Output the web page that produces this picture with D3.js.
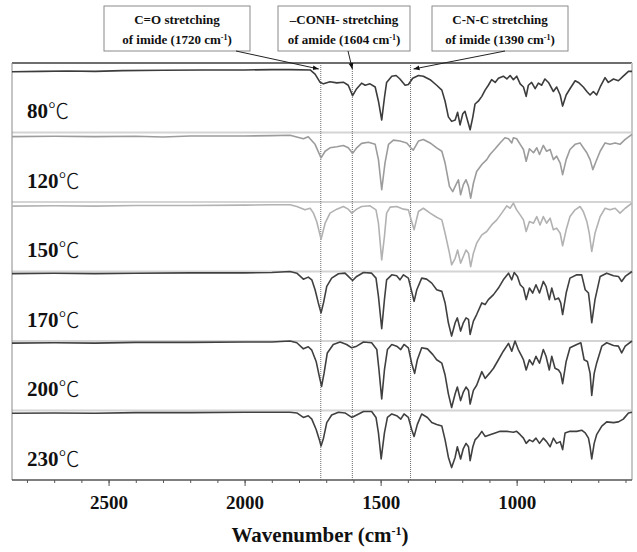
<!DOCTYPE html>
<html>
<head>
<meta charset="utf-8">
<script src="https://cdn.jsdelivr.net/npm/d3@7"></script>
<style>
  body { margin: 0; background: #fff; }
  svg { display: block; }
  text { font-family: "Liberation Serif", "Times New Roman", serif; font-weight: bold; fill: #111; }
</style>
</head>
<body>
<svg id="chart" width="637" height="552"></svg>
<script>
// temperatures, top to bottom
const temperatures = ["80", "120", "150", "170", "200", "230"];

// [wavenumber (cm-1), transmittance (% of panel)]
const spectrum80 = [[2855,87.5],[2750,88],[2650,88.5],[2550,88],[2450,89],[2300,89.5],[2150,90],[2000,90],[1900,90.5],[1833,90.5],[1759,90],[1741,84],[1723,72.4],[1710,70],[1686,73],[1661,71.4],[1637,72.4],[1619,68],[1603,53],[1588,63],[1570,71],[1557,68],[1539,70],[1520,65.5],[1508,45],[1496,18],[1486,50],[1478,72],[1459,81],[1443,82],[1429,77],[1410,68],[1398,69],[1382,78],[1361,82],[1343,81],[1318,76],[1294,68],[1275,61],[1263,45],[1251,22.5],[1239,16],[1226,18],[1217,29],[1208,11],[1198,27],[1190,30.6],[1181,18],[1171,4],[1161,22.5],[1153,41],[1141,45],[1128,52],[1116,61],[1104,68],[1092,76],[1079,72],[1067,78],[1049,81],[1036,77],[1024,82],[1012,76],[1000,81],[987,70],[975,65.5],[965,52],[957,68],[945,72],[932,63],[920,71],[908,68],[896,77],[883,72],[865,59],[853,65.5],[840,54],[831,38],[818,54],[804,63],[785,74.5],[773,72],[755,65.5],[742,59],[730,54],[718,59],[706,54],[693,65.5],[675,79],[663,72],[644,77],[626,74.5],[608,81],[589,88],[576,88]];

const spectrum120 = [[2855,94],[2700,94.5],[2550,94],[2400,94.5],[2300,93.5],[2200,95],[2000,95],[1900,95.5],[1833,96],[1784,91],[1766,94],[1741,83],[1719,63.5],[1704,73],[1686,78],[1661,79.5],[1637,81.4],[1619,78],[1603,70],[1588,78],[1570,84.3],[1545,86],[1520,83],[1508,61],[1496,17.6],[1484,56],[1471,83],[1453,89],[1429,87.7],[1404,85],[1389,78],[1380,74.6],[1361,87.7],[1343,90],[1318,85],[1294,78],[1275,73],[1263,56],[1247,22.5],[1235,15],[1223,25],[1214,32],[1206,10.4],[1196,25],[1186,32],[1177,22.5],[1169,5.6],[1159,27],[1147,44],[1128,54],[1110,61],[1098,68.4],[1079,76.6],[1061,85],[1043,92.5],[1030,91],[1018,85],[1012,92.5],[1000,91],[987,83],[975,75.6],[965,58.7],[953,76.6],[938,70.8],[926,78],[916,68.4],[902,81.4],[890,73],[877,75.6],[865,61],[853,66],[840,56],[831,39.4],[818,61],[804,75.6],[785,83],[767,85],[755,78],[742,70.8],[730,61],[720,46.6],[708,58.7],[693,73],[675,85],[657,83],[638,85],[620,83],[601,90],[576,97.3]];

const spectrum150 = [[2855,94],[2700,94.5],[2550,94],[2400,95],[2200,95],[2000,95.5],[1900,96],[1833,96],[1808,93.5],[1778,88.7],[1759,91],[1747,84],[1735,72],[1719,46.5],[1704,69.5],[1686,84],[1661,89.7],[1637,93.5],[1619,89.7],[1606,84],[1588,89.7],[1570,93.5],[1539,94.5],[1517,88.7],[1508,69.5],[1496,16.8],[1486,50.4],[1478,84],[1465,92.6],[1441,93.5],[1416,89.7],[1398,88.7],[1386,72],[1377,60],[1361,86.3],[1343,91],[1318,84],[1294,78],[1275,74.3],[1263,55],[1247,26.4],[1239,9.6],[1226,19],[1217,31],[1206,12],[1196,21.6],[1186,31],[1177,26.4],[1169,7],[1159,26.4],[1147,40.8],[1128,52.8],[1110,57.6],[1092,67],[1073,74.3],[1055,84],[1036,94.5],[1024,91],[1012,98.3],[1000,88.7],[987,81.5],[975,74.3],[965,57.6],[953,72],[938,69.5],[926,79],[914,67],[902,79],[890,69.5],[877,76.7],[865,60],[853,62.4],[840,55],[831,37],[818,60],[804,79],[785,88.7],[767,93.5],[755,86.3],[742,72],[733,55],[724,28.8],[712,55],[693,79],[675,91],[657,88.7],[638,91],[620,84],[601,91],[576,98.3]];

const spectrum170 = [[2855,97],[2700,97.5],[2550,97],[2400,97.5],[2200,98],[2000,98],[1900,98.5],[1833,100],[1808,97.6],[1784,89],[1766,91.9],[1753,88],[1741,73.8],[1729,54.8],[1719,40.5],[1710,54.8],[1698,78.6],[1680,90.5],[1655,96.7],[1631,97.6],[1612,90.5],[1603,87],[1588,92.9],[1563,98.6],[1533,97.6],[1517,90.5],[1508,64.3],[1496,17.6],[1486,59.5],[1478,88],[1459,95.2],[1441,93.8],[1429,88],[1416,95.2],[1398,90.5],[1386,71.4],[1377,57.1],[1367,73.8],[1349,90.5],[1331,89],[1312,83.3],[1294,73.8],[1275,71.4],[1263,54.8],[1251,26.2],[1239,7.1],[1226,26.2],[1218,33.3],[1206,14.3],[1196,26.2],[1186,33.3],[1177,31],[1171,9.5],[1159,28.6],[1147,38.1],[1128,54.8],[1116,52.4],[1104,59.5],[1085,66.7],[1067,76.2],[1049,88],[1030,97.6],[1018,88],[1009,98.6],[997,92.9],[987,81],[975,76.2],[965,59.5],[953,76.2],[941,69],[929,81],[916,69],[902,85.7],[892,78.6],[880,59.5],[871,76.2],[859,59.5],[846,61.9],[838,54.8],[831,38.1],[818,69],[804,90.5],[779,95.2],[761,95.2],[748,73.8],[736,69],[730,50],[724,26.2],[712,59.5],[693,92.9],[669,97.6],[644,93.8],[626,92.9],[614,85.7],[601,92.9],[576,100]];

const spectrum200 = [[2855,97],[2700,97.5],[2550,97],[2400,98],[2200,98],[2000,98.5],[1900,98.5],[1833,100],[1808,97.5],[1784,88.7],[1766,91.7],[1753,86.8],[1737,70.6],[1725,48.5],[1717,34.8],[1708,53.4],[1696,82.8],[1674,95],[1649,98.5],[1625,95],[1606,90.2],[1588,92.6],[1563,98.5],[1533,97.5],[1514,87.7],[1506,58.3],[1496,16.7],[1486,58.3],[1475,87.7],[1459,95],[1441,92.6],[1426,87.7],[1414,95],[1398,90.2],[1386,68.1],[1375,53.4],[1365,73],[1349,90.2],[1328,88.7],[1308,80.4],[1294,73],[1275,68.1],[1263,51],[1251,24],[1239,4.4],[1226,24],[1218,33.8],[1206,14.2],[1196,26.5],[1186,33.8],[1177,28.9],[1171,9.3],[1159,28.9],[1147,36.3],[1128,55.9],[1116,46.1],[1100,53.4],[1085,60.8],[1067,73],[1049,85.3],[1030,96.6],[1018,85.3],[1006,100],[994,87.7],[981,78],[975,73],[965,58.3],[953,73],[941,65.7],[929,78],[916,68.1],[902,87.7],[892,78],[880,58.3],[871,78],[859,60.8],[846,58.3],[838,53.4],[831,38.7],[818,70.6],[804,90.2],[779,95],[764,97.5],[752,73],[740,70.6],[730,53.4],[724,21.6],[715,53.4],[706,68.1],[687,92.6],[669,97.5],[644,93.6],[626,92.6],[614,82.8],[601,92.6],[576,100]];

const spectrum230 = [[2855,96],[2700,96.5],[2550,96],[2400,97],[2200,97],[2000,97.5],[1900,97.5],[1833,97.5],[1808,96.5],[1784,90],[1766,92.5],[1753,87.6],[1737,72.6],[1725,57.7],[1719,48.8],[1710,60.2],[1698,82.6],[1680,93.5],[1655,97.5],[1631,96.5],[1606,90],[1588,93.5],[1563,98.5],[1533,98.5],[1517,90],[1508,67.7],[1498,30.3],[1486,67.7],[1475,90],[1459,95],[1441,92.5],[1426,87.6],[1414,95],[1398,90],[1386,72.6],[1377,62.7],[1365,80],[1349,95],[1328,90],[1312,82.6],[1294,80],[1275,77.6],[1263,57.7],[1251,32.8],[1239,17.9],[1226,32.8],[1218,47.8],[1206,30.3],[1196,45.3],[1186,52.7],[1177,47.8],[1171,27.9],[1161,47.8],[1153,57.7],[1141,62.7],[1128,70],[1116,62.7],[1098,65.2],[1079,67.7],[1061,70],[1036,70],[1012,68.7],[1000,70],[987,65.2],[975,60.2],[965,52.7],[953,57.7],[941,55.2],[929,60.2],[916,52.7],[902,60.2],[890,55.2],[877,47.8],[865,60.2],[853,52.7],[840,55.2],[831,43.8],[822,67.7],[804,70],[779,70],[761,71.6],[748,67.7],[736,60.2],[730,47.8],[724,30.3],[715,52.7],[706,65.2],[687,77.6],[669,83.6],[644,82.6],[626,83.6],[608,87.6],[589,96.5],[576,97.5]];

const spectra = [spectrum80, spectrum120, spectrum150, spectrum170, spectrum200, spectrum230];

// marked bands
const markerWavenumbers = [1720, 1604, 1390];
const markerLine1 = ["C=O stretching", "\u2013CONH- stretching", "C-N-C stretching"];
const markerLine2 = ["of imide (1720 cm", "of amide (1604 cm", "of imide (1390 cm"];

const majorTicks = [2500, 2000, 1500, 1000];
const minorTicks = d3.range(600, 2900, 100);

const lineColors = ["#3c3c3c", "#9c9c9c", "#b2b2b2", "#404040", "#404040", "#404040"];

const svg = d3.select("#chart");
const plotLeft = 12, plotRight = 632, plotTop = 63, plotBottom = 480;

const x = d3.scaleLinear().domain([2855, 576]).range([plotLeft, plotRight]);
const band = d3.scaleBand().domain(temperatures).range([plotTop, plotBottom]);

// panel separators
svg.append("g").selectAll("line")
  .data(temperatures.slice(1))
  .join("line")
  .attr("x1", plotLeft).attr("x2", plotRight)
  .attr("y1", d => band(d)).attr("y2", d => band(d))
  .attr("stroke", "#d4d4d4").attr("stroke-width", 2);

// frame
svg.append("line").attr("x1", plotLeft).attr("x2", plotRight).attr("y1", plotTop).attr("y2", plotTop)
  .attr("stroke", "#6e6e6e").attr("stroke-width", 2);
svg.append("line").attr("x1", plotLeft).attr("x2", plotLeft).attr("y1", plotTop).attr("y2", plotBottom)
  .attr("stroke", "#8a8a8a").attr("stroke-width", 1);
svg.append("line").attr("x1", plotRight).attr("x2", plotRight).attr("y1", plotTop).attr("y2", plotBottom)
  .attr("stroke", "#c8c8c8").attr("stroke-width", 2);

// dotted marker lines
svg.append("g").selectAll("line")
  .data(markerWavenumbers)
  .join("line")
  .attr("x1", d => x(d)).attr("x2", d => x(d))
  .attr("y1", plotTop).attr("y2", plotBottom)
  .attr("stroke", "#6a6a6a").attr("stroke-width", 1)
  .attr("stroke-dasharray", "1,1");

// spectra
temperatures.forEach((t, i) => {
  const y0 = band(t);
  const y = d3.scaleLinear().domain([0, 100]).range([y0 + band.bandwidth(), y0]);
  const line = d3.line().x(d => x(d[0])).y(d => y(d[1]));
  svg.append("path")
    .datum(spectra[i])
    .attr("d", line)
    .attr("fill", "none")
    .attr("stroke", lineColors[i])
    .attr("stroke-width", 1.6)
    .attr("stroke-linejoin", "round");

  const label = svg.append("text")
    .attr("x", 27)
    .attr("y", y0 + 55)
    .style("font-size", "21px")
    .text(t);
  label.append("tspan")
    .style("font-family", "'Noto Sans CJK JP', 'DejaVu Sans', sans-serif")
    .style("font-weight", "300")
    .style("font-size", "21px")
    .text("\u2103");
});

// x axis
svg.append("line").attr("x1", plotLeft).attr("x2", plotRight).attr("y1", plotBottom).attr("y2", plotBottom)
  .attr("stroke", "#555").attr("stroke-width", 1.5);

const minorAxis = svg.append("g")
  .attr("transform", `translate(0,${plotBottom})`)
  .call(d3.axisBottom(x).tickValues(minorTicks).tickSize(3).tickFormat(""));
minorAxis.select(".domain").remove();
minorAxis.selectAll("line").attr("stroke", "#555");

const majorAxis = svg.append("g")
  .attr("transform", `translate(0,${plotBottom})`)
  .call(d3.axisBottom(x).tickValues(majorTicks).tickSize(6).tickPadding(10).tickFormat(d3.format("d")));
majorAxis.select(".domain").remove();
majorAxis.selectAll("line").attr("stroke", "#555");
majorAxis.selectAll("text")
  .style("font-family", "'Liberation Serif', 'Times New Roman', serif")
  .style("font-weight", "bold")
  .style("font-size", "19px")
  .attr("fill", "#111");

const title = svg.append("text")
  .attr("x", 320).attr("y", 542)
  .attr("text-anchor", "middle")
  .style("font-size", "21px")
  .text("Wavenumber (cm");
title.append("tspan").attr("baseline-shift", "super").style("font-size", "12px").text("-1");
title.append("tspan").text(")");

// annotation boxes
const boxCenters = [177, 344, 500];
const boxWidths = [146, 132, 136];
const boxTop = 6, boxBottom = 51;

svg.append("defs").append("marker")
  .attr("id", "arrow")
  .attr("viewBox", "0 0 10 10")
  .attr("refX", 10).attr("refY", 5)
  .attr("markerWidth", 6).attr("markerHeight", 6)
  .attr("orient", "auto")
  .append("path").attr("d", "M0,1L10,5L0,9z").attr("fill", "#111");

const arrowStartX = [236, 348, 505];
markerWavenumbers.forEach((w, i) => {
  svg.append("rect")
    .attr("x", boxCenters[i] - boxWidths[i] / 2).attr("y", boxTop)
    .attr("width", boxWidths[i]).attr("height", boxBottom - boxTop)
    .attr("fill", "#fff").attr("stroke", "#8a8a8a").attr("stroke-width", 1);
  svg.append("text")
    .attr("x", boxCenters[i]).attr("y", 24)
    .attr("text-anchor", "middle")
    .style("font-size", "13px")
    .text(markerLine1[i]);
  const t2 = svg.append("text")
    .attr("x", boxCenters[i]).attr("y", 44)
    .attr("text-anchor", "middle")
    .style("font-size", "13px")
    .text(markerLine2[i]);
  t2.append("tspan").attr("baseline-shift", "super").style("font-size", "8px").text("-1");
  t2.append("tspan").text(")");

  svg.append("line")
    .attr("x1", arrowStartX[i]).attr("y1", boxBottom)
    .attr("x2", x(w) - (i === 0 ? 2 : 0) + (i === 2 ? 3 : 0)).attr("y2", plotTop + 6)
    .attr("stroke", "#222").attr("stroke-width", 1)
    .attr("marker-end", "url(#arrow)");
});
</script>
</body>
</html>
